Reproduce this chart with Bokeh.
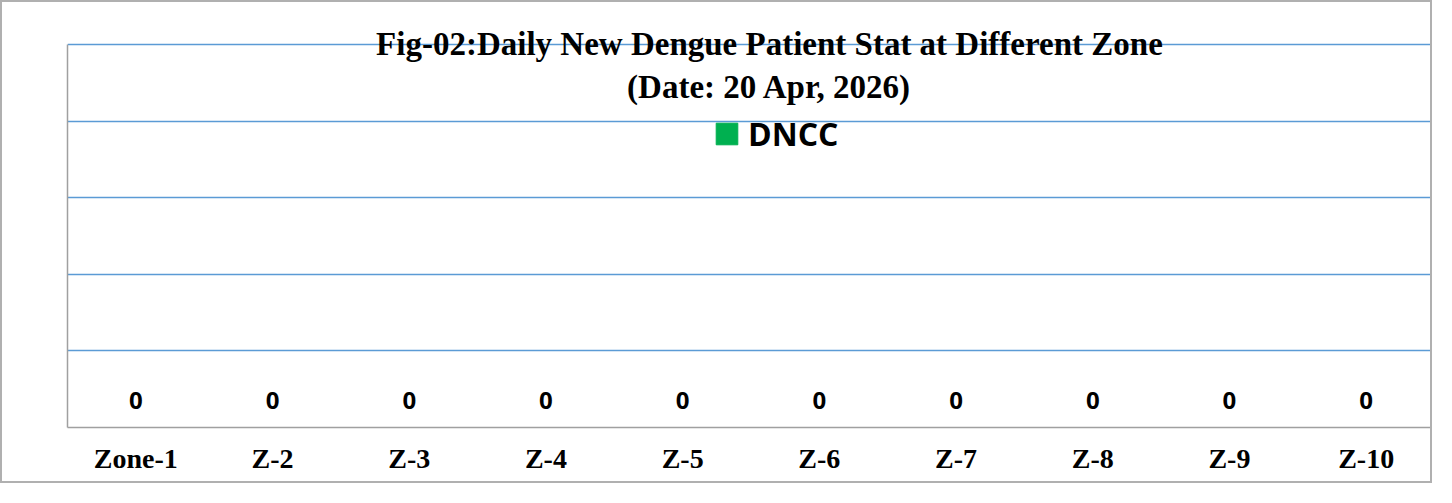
from bokeh.plotting import figure
from bokeh.models import ColumnDataSource, Range1d, FixedTicker, LabelSet, Label
from bokeh.core.properties import value
from bokeh.embed import file_html
from bokeh.resources import INLINE

categories = ["Zone-1", "Z-2", "Z-3", "Z-4", "Z-5", "Z-6", "Z-7", "Z-8", "Z-9", "Z-10"]
dncc = [0, 0, 0, 0, 0, 0, 0, 0, 0, 0]
series_name = "DNCC"
title_line1 = "Fig-02:Daily New Dengue Patient Stat at Different Zone"
title_line2 = "(Date: 20 Apr, 2026)"
y_ticks = [1, 2, 3, 4, 5]

src = ColumnDataSource(dict(cat=categories, val=dncc, lbl=[str(v) for v in dncc]))

p = figure(x_range=categories, y_range=Range1d(0, 5.3), width=1432, height=483,
           output_backend="svg", toolbar_location=None,
           min_border_left=65, min_border_top=19, min_border_bottom=58, min_border_right=0)
p.styles = {"border": "2px solid #b0b0b0"}
p.outline_line_color = None
p.background_fill_color = "white"
p.border_fill_color = "white"

p.vbar(x="cat", top="val", width=0.6, color="#00b050", source=src, legend_label=series_name)

# axes
p.yaxis.ticker = FixedTicker(ticks=y_ticks)
p.yaxis.bounds = (0, 5)
p.yaxis.major_label_text_color = None
p.yaxis.major_label_text_font_size = "10px"
p.yaxis.major_tick_line_color = None
p.yaxis.minor_tick_line_color = None
p.yaxis.major_tick_out = 0
p.yaxis.axis_line_color = "#a0a0a0"
p.yaxis.axis_line_width = 1.5

p.xaxis.axis_line_color = "#a0a0a0"
p.xaxis.axis_line_width = 1.5
p.xaxis.major_tick_line_color = None
p.xaxis.major_tick_out = 0
p.xaxis.major_label_standoff = 15
p.xaxis.major_label_text_font = "Liberation Serif"
p.xaxis.major_label_text_font_style = "bold"
p.xaxis.major_label_text_font_size = "28px"
p.xaxis.major_label_text_color = "black"

p.xgrid.grid_line_color = None
p.ygrid.ticker = FixedTicker(ticks=y_ticks)
p.ygrid.grid_line_color = "#5b9bd5"
p.ygrid.grid_line_width = 1.5

labels = LabelSet(x="cat", y="val", text="lbl", source=src, y_offset=27,
                  text_align="center", text_baseline="middle",
                  text_font=value("Open Sans"), text_font_style="bold",
                  text_font_size=value("24px"), text_color="black")
p.add_layout(labels)

t1 = Label(x=5.135, y=5.0, text=title_line1, text_align="center", text_baseline="middle",
           text_font="Liberation Serif", text_font_style="bold", text_font_size="33px",
           text_color="black")
t2 = Label(x=5.135, y=4.445, text=title_line2, text_align="center", text_baseline="middle",
           text_font="Liberation Serif", text_font_style="bold", text_font_size="33px",
           text_color="black")
p.add_layout(t1)
p.add_layout(t2)

lg = p.legend[0]
lg.location = (646, 272)
lg.border_line_color = None
lg.background_fill_alpha = 0
lg.padding = 0
lg.margin = 0
lg.spacing = 0
lg.glyph_width = 27
lg.glyph_height = 27
lg.label_standoff = 8
lg.label_text_font = "Open Sans"
lg.label_text_font_style = "bold"
lg.label_text_font_size = "32px"
lg.label_text_color = "black"

open("out.html", "w").write(file_html(p, INLINE))
